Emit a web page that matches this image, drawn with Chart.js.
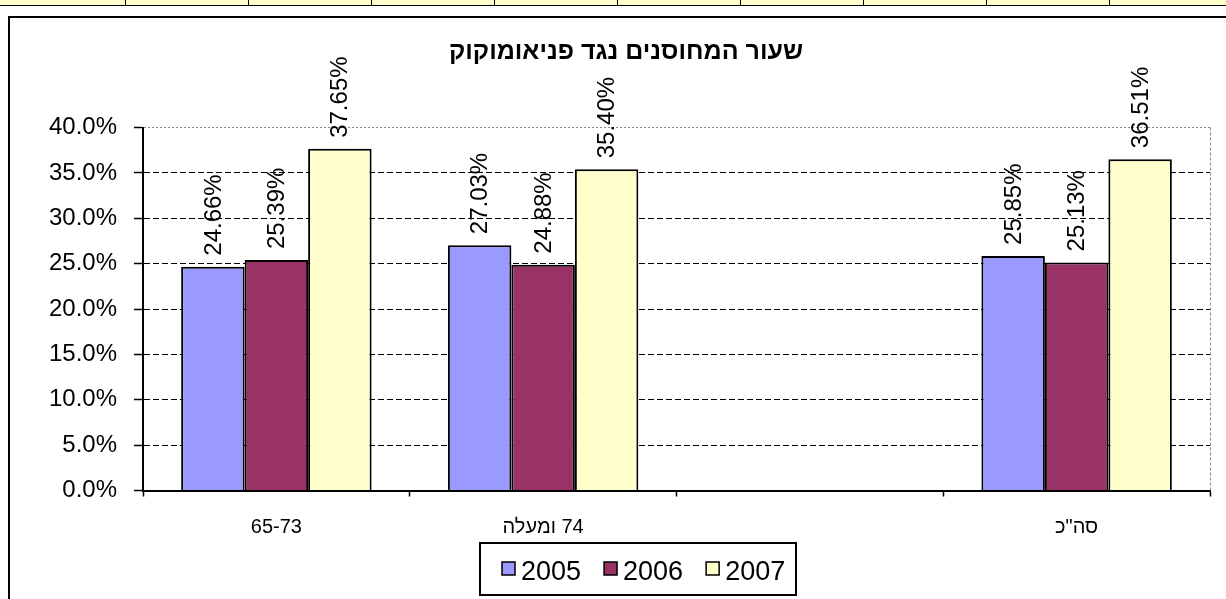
<!DOCTYPE html>
<html>
<head>
<meta charset="utf-8">
<script src="https://cdn.jsdelivr.net/npm/chart.js@4"></script>
<style>
  html, body { margin: 0; padding: 0; background: #fff; }
  #wrap { position: relative; width: 1226px; height: 599px; overflow: hidden; }
  /* strip of sheet cells above the chart object */
  #cells { position: absolute; left: 0; top: 0; width: 1226px; height: 5px; background: #ffffcc; border-bottom: 1px solid #000; }
  #cells span { position: absolute; top: 0; width: 1px; height: 6px; background: #000; }
  /* chart object frame */
  #frame { position: absolute; left: 8px; top: 16px; width: 1300px; height: 700px; border-left: 2px solid #000; border-top: 2px solid #000; }
  canvas { position: absolute; left: 0; top: 0; direction: rtl; }
</style>
</head>
<body>
<div id="wrap">
  <div id="cells"></div>
  <div id="frame"></div>
  <canvas id="graphique" width="1226" height="599"></canvas>
</div>
<script>
// données du graphique
var categories = ['65-73', '74 ומעלה', '', 'סה"כ'];
var annees = ['2005', '2006', '2007'];
var valeurs2005 = [24.66, 27.03, null, 25.85];
var valeurs2006 = [25.39, 24.88, null, 25.13];
var valeurs2007 = [37.65, 35.40, null, 36.51];
var couleurs = ['#9999ff', '#993366', '#ffffcc'];
var titre = 'שעור המחוסנים נגד פניאומוקוק';

// colonnes de la feuille
var cells = document.getElementById('cells');
for (var cx = 125; cx < 1226; cx += 123) {
  var s = document.createElement('span');
  s.style.left = cx + 'px';
  cells.appendChild(s);
}

var police = '"Liberation Sans", Arial, sans-serif';

var pluginDecor = {
  id: 'decor',
  beforeDatasetsDraw: function(chart) {
    var a = chart.chartArea, ctx = chart.ctx;
    ctx.save();
    ctx.strokeStyle = '#888';
    ctx.lineWidth = 1;
    ctx.setLineDash([3, 2]);
    ctx.beginPath();
    ctx.moveTo(a.right + 0.5, a.top);
    ctx.lineTo(a.right + 0.5, a.bottom);
    ctx.stroke();
    ctx.restore();
  },
  afterDraw: function(chart) {
    var ctx = chart.ctx;
    ctx.save();
    // titre
    ctx.fillStyle = '#000';
    ctx.font = 'bold 25px ' + police;
    ctx.textAlign = 'center';
    ctx.textBaseline = 'middle';
    ctx.fillText(titre, 626, 52);

    // étiquettes de valeurs, tournées
    ctx.font = '24px ' + police;
    ctx.textAlign = 'left';
    ctx.textBaseline = 'middle';
    chart.data.datasets.forEach(function(ds, i) {
      var meta = chart.getDatasetMeta(i);
      meta.data.forEach(function(bar, j) {
        var v = ds.data[j];
        if (v === null) return;
        ctx.save();
        ctx.translate(bar.x + 1, bar.y - 11);
        ctx.rotate(-Math.PI / 2);
        ctx.fillText(v.toFixed(2) + '%', 0, 0);
        ctx.restore();
      });
    });

    // légende
    ctx.fillStyle = '#fff';
    ctx.fillRect(480, 543, 316, 52);
    ctx.strokeStyle = '#000';
    ctx.lineWidth = 2;
    ctx.strokeRect(480, 543, 316, 52);
    ctx.font = '27px ' + police;
    ctx.textBaseline = 'alphabetic';
    var x = 502;
    chart.data.datasets.forEach(function(ds) {
      ctx.fillStyle = ds.backgroundColor;
      ctx.fillRect(x, 562, 13, 13);
      ctx.lineWidth = 1.5;
      ctx.strokeRect(x, 562, 13, 13);
      ctx.fillStyle = '#000';
      ctx.fillText(ds.label, x + 19, 580);
      x += 19 + ctx.measureText(ds.label).width + 23;
    });
    ctx.restore();
  }
};

var series = [valeurs2005, valeurs2006, valeurs2007];
var ctx = document.getElementById('graphique').getContext('2d');
var chart = new Chart(ctx, {
  type: 'bar',
  data: {
    labels: categories,
    datasets: series.map(function(d, i) {
      return {
        label: annees[i],
        data: d,
        backgroundColor: couleurs[i],
        borderColor: '#000',
        borderWidth: 2,
        categoryPercentage: 0.714,
        barPercentage: 1
      };
    })
  },
  options: {
    responsive: false,
    animation: false,
    layout: { padding: { top: 127.5, right: 16, left: 0, bottom: 0 } },
    plugins: {
      legend: { display: false },
      title: { display: false },
      tooltip: { enabled: false }
    },
    scales: {
      x: {
        afterFit: function(s) { s.height = 108.5; },
        grid: { drawOnChartArea: false, drawTicks: true, tickLength: 6, tickColor: '#000', tickWidth: 1.5 },
        border: { color: '#000', width: 2 },
        ticks: { color: '#000', font: { family: police, size: 20 }, padding: 19, maxRotation: 0 }
      },
      y: {
        min: 0,
        max: 40,
        afterFit: function(s) { s.width = 143; },
        ticks: {
          stepSize: 5,
          color: '#000',
          padding: 17,
          font: { family: police, size: 24 },
          callback: function(value) { return value.toFixed(1) + '%'; }
        },
        grid: {
          color: function(c) { return c.tick && c.tick.value === 40 ? '#888' : '#000'; },
          lineWidth: 1,
          tickLength: 9,
          tickColor: '#000',
          tickWidth: 1.5
        },
        border: {
          color: '#000',
          width: 2,
          dash: function(c) { return c.tick && c.tick.value === 40 ? [2, 2] : [6, 3]; }
        }
      }
    }
  },
  plugins: [pluginDecor]
});
</script>
</body>
</html>
